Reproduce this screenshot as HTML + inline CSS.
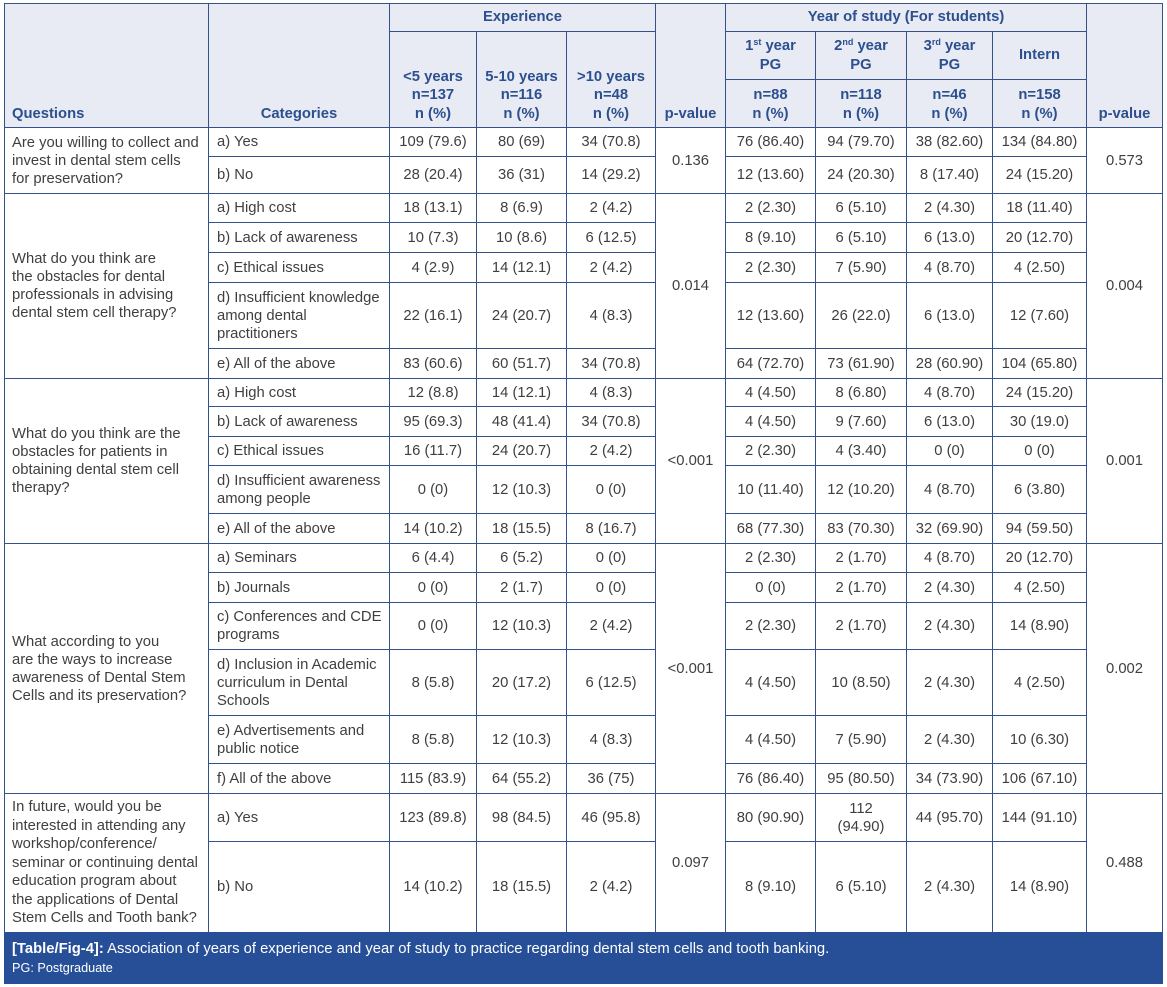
<!DOCTYPE html>
<html>
<head>
<meta charset="utf-8">
<style>
*{margin:0;padding:0;box-sizing:border-box}
html,body{width:1167px;height:987px;background:#fff;overflow:hidden}
body{position:relative;font-family:"Liberation Sans",Arial,sans-serif;font-size:14.8px;color:#3f3f3f}
.g{position:absolute;left:4px;top:3px;width:1159px;height:929px;background:#34518a;padding:1px 1px 0 1px;display:grid;gap:1px;
grid-template-columns:203px 180px 86px 89px 88px 69px 89px 90px 85px 93px 75px;
grid-template-rows:27px 47px 47px 28px 36px 28px 29px 29px 65px 29px 27px 29px 28px 47px 29px 28px 29px 46px 65px 47px 29px 47px 90px}
.g>div{background:#fff;display:flex;align-items:center;justify-content:center;text-align:center;line-height:18px;white-space:nowrap}
.g>div.h{background:#e8ebf3;color:#2c4f8f;font-weight:bold;line-height:18.5px}
.g>div.b{align-items:flex-end;padding-bottom:4px}
.g>div.l{justify-content:flex-start;text-align:left;padding-left:8px}
.g>div.q{justify-content:flex-start;text-align:left;padding-left:7px}
.g span{display:block}
sup{font-size:9px;vertical-align:5px;line-height:0}
.cap{position:absolute;left:4px;top:932px;width:1159px;height:52px;background:#264f97;color:#fff;padding:8px 0 0 8px;font-size:14.8px;line-height:18px;white-space:nowrap}
.cap .s{font-size:12.7px;line-height:16px;margin-top:2px}
</style>
</head>
<body>
<div class="g">
<div class="h q b" style="grid-area:1/1/4/2">Questions</div>
<div class="h b" style="grid-area:1/2/4/3">Categories</div>
<div class="h" style="grid-area:1/3/2/6">Experience</div>
<div class="h b" style="grid-area:1/6/4/7">p-value</div>
<div class="h" style="grid-area:1/7/2/11">Year of study (For students)</div>
<div class="h b" style="grid-area:1/11/4/12">p-value</div>
<div class="h b" style="grid-area:2/3/4/4"><span>&lt;5 years<br>n=137<br>n (%)</span></div>
<div class="h b" style="grid-area:2/4/4/5"><span>5-10 years<br>n=116<br>n (%)</span></div>
<div class="h b" style="grid-area:2/5/4/6"><span>&gt;10 years<br>n=48<br>n (%)</span></div>
<div class="h" style="grid-area:2/7/3/8"><span>1<sup>st</sup> year<br>PG</span></div>
<div class="h" style="grid-area:2/8/3/9"><span>2<sup>nd</sup> year<br>PG</span></div>
<div class="h" style="grid-area:2/9/3/10"><span>3<sup>rd</sup> year<br>PG</span></div>
<div class="h" style="grid-area:2/10/3/11">Intern</div>
<div class="h b" style="grid-area:3/7/4/8"><span>n=88<br>n (%)</span></div>
<div class="h b" style="grid-area:3/8/4/9"><span>n=118<br>n (%)</span></div>
<div class="h b" style="grid-area:3/9/4/10"><span>n=46<br>n (%)</span></div>
<div class="h b" style="grid-area:3/10/4/11"><span>n=158<br>n (%)</span></div>

<div class="q" style="grid-area:4/1/6/2"><span>Are you willing to collect and<br>invest in dental stem cells<br>for preservation?</span></div>
<div style="grid-area:4/6/6/7">0.136</div>
<div style="grid-area:4/11/6/12">0.573</div>

<div class="q" style="grid-area:6/1/11/2"><span>What do you think are<br>the obstacles for dental<br>professionals in advising<br>dental stem cell therapy?</span></div>
<div style="grid-area:6/6/11/7">0.014</div>
<div style="grid-area:6/11/11/12">0.004</div>

<div class="q" style="grid-area:11/1/16/2"><span>What do you think are the<br>obstacles for patients in<br>obtaining dental stem cell<br>therapy?</span></div>
<div style="grid-area:11/6/16/7">&lt;0.001</div>
<div style="grid-area:11/11/16/12">0.001</div>

<div class="q" style="grid-area:16/1/22/2"><span>What according to you<br>are the ways to increase<br>awareness of Dental Stem<br>Cells and its preservation?</span></div>
<div style="grid-area:16/6/22/7">&lt;0.001</div>
<div style="grid-area:16/11/22/12">0.002</div>

<div class="q" style="grid-area:22/1/24/2;line-height:18.5px"><span>In future, would you be<br>interested in attending any<br>workshop/conference/<br>seminar or continuing dental<br>education program about<br>the applications of Dental<br>Stem Cells and Tooth bank?</span></div>
<div style="grid-area:22/6/24/7">0.097</div>
<div style="grid-area:22/11/24/12">0.488</div>

<div class="l">a) Yes</div><div>109 (79.6)</div><div>80 (69)</div><div>34 (70.8)</div><div>76 (86.40)</div><div>94 (79.70)</div><div>38 (82.60)</div><div>134 (84.80)</div>
<div class="l">b) No</div><div>28 (20.4)</div><div>36 (31)</div><div>14 (29.2)</div><div>12 (13.60)</div><div>24 (20.30)</div><div>8 (17.40)</div><div>24 (15.20)</div>

<div class="l">a) High cost</div><div>18 (13.1)</div><div>8 (6.9)</div><div>2 (4.2)</div><div>2 (2.30)</div><div>6 (5.10)</div><div>2 (4.30)</div><div>18 (11.40)</div>
<div class="l">b) Lack of awareness</div><div>10 (7.3)</div><div>10 (8.6)</div><div>6 (12.5)</div><div>8 (9.10)</div><div>6 (5.10)</div><div>6 (13.0)</div><div>20 (12.70)</div>
<div class="l">c) Ethical issues</div><div>4 (2.9)</div><div>14 (12.1)</div><div>2 (4.2)</div><div>2 (2.30)</div><div>7 (5.90)</div><div>4 (8.70)</div><div>4 (2.50)</div>
<div class="l"><span>d) Insufficient knowledge<br>among dental<br>practitioners</span></div><div>22 (16.1)</div><div>24 (20.7)</div><div>4 (8.3)</div><div>12 (13.60)</div><div>26 (22.0)</div><div>6 (13.0)</div><div>12 (7.60)</div>
<div class="l">e) All of the above</div><div>83 (60.6)</div><div>60 (51.7)</div><div>34 (70.8)</div><div>64 (72.70)</div><div>73 (61.90)</div><div>28 (60.90)</div><div>104 (65.80)</div>

<div class="l">a) High cost</div><div>12 (8.8)</div><div>14 (12.1)</div><div>4 (8.3)</div><div>4 (4.50)</div><div>8 (6.80)</div><div>4 (8.70)</div><div>24 (15.20)</div>
<div class="l">b) Lack of awareness</div><div>95 (69.3)</div><div>48 (41.4)</div><div>34 (70.8)</div><div>4 (4.50)</div><div>9 (7.60)</div><div>6 (13.0)</div><div>30 (19.0)</div>
<div class="l">c) Ethical issues</div><div>16 (11.7)</div><div>24 (20.7)</div><div>2 (4.2)</div><div>2 (2.30)</div><div>4 (3.40)</div><div>0 (0)</div><div>0 (0)</div>
<div class="l"><span>d) Insufficient awareness<br>among people</span></div><div>0 (0)</div><div>12 (10.3)</div><div>0 (0)</div><div>10 (11.40)</div><div>12 (10.20)</div><div>4 (8.70)</div><div>6 (3.80)</div>
<div class="l">e) All of the above</div><div>14 (10.2)</div><div>18 (15.5)</div><div>8 (16.7)</div><div>68 (77.30)</div><div>83 (70.30)</div><div>32 (69.90)</div><div>94 (59.50)</div>

<div class="l">a) Seminars</div><div>6 (4.4)</div><div>6 (5.2)</div><div>0 (0)</div><div>2 (2.30)</div><div>2 (1.70)</div><div>4 (8.70)</div><div>20 (12.70)</div>
<div class="l">b) Journals</div><div>0 (0)</div><div>2 (1.7)</div><div>0 (0)</div><div>0 (0)</div><div>2 (1.70)</div><div>2 (4.30)</div><div>4 (2.50)</div>
<div class="l"><span>c) Conferences and CDE<br>programs</span></div><div>0 (0)</div><div>12 (10.3)</div><div>2 (4.2)</div><div>2 (2.30)</div><div>2 (1.70)</div><div>2 (4.30)</div><div>14 (8.90)</div>
<div class="l"><span>d) Inclusion in Academic<br>curriculum in Dental<br>Schools</span></div><div>8 (5.8)</div><div>20 (17.2)</div><div>6 (12.5)</div><div>4 (4.50)</div><div>10 (8.50)</div><div>2 (4.30)</div><div>4 (2.50)</div>
<div class="l"><span>e) Advertisements and<br>public notice</span></div><div>8 (5.8)</div><div>12 (10.3)</div><div>4 (8.3)</div><div>4 (4.50)</div><div>7 (5.90)</div><div>2 (4.30)</div><div>10 (6.30)</div>
<div class="l">f) All of the above</div><div>115 (83.9)</div><div>64 (55.2)</div><div>36 (75)</div><div>76 (86.40)</div><div>95 (80.50)</div><div>34 (73.90)</div><div>106 (67.10)</div>

<div class="l">a) Yes</div><div>123 (89.8)</div><div>98 (84.5)</div><div>46 (95.8)</div><div>80 (90.90)</div><div><span>112<br>(94.90)</span></div><div>44 (95.70)</div><div>144 (91.10)</div>
<div class="l">b) No</div><div>14 (10.2)</div><div>18 (15.5)</div><div>2 (4.2)</div><div>8 (9.10)</div><div>6 (5.10)</div><div>2 (4.30)</div><div>14 (8.90)</div>
</div>
<div class="cap">
<div><b>[Table/Fig-4]:</b> Association of years of experience and year of study to practice regarding dental stem cells and tooth banking.</div>
<div class="s">PG: Postgraduate</div>
</div>
</body>
</html>
